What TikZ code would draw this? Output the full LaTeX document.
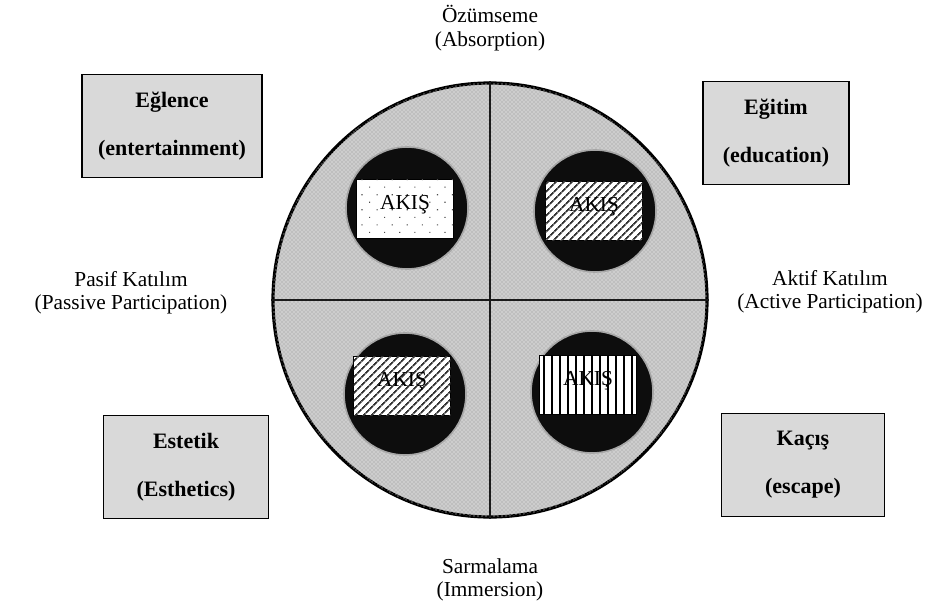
\documentclass[tikz,border=0pt]{standalone}
\usepackage{fontspec}
\setmainfont{Liberation Serif}
\usetikzlibrary{patterns,patterns.meta}

\begin{document}
\begin{tikzpicture}[x=0.75pt,y=-0.75pt,
  every node/.style={align=center},
  axislabel/.style={font=\fontsize{16}{17.5}\selectfont},
  realmbox/.style={draw=black, fill=gray!30, thick, minimum height=77pt, font=\fontsize{16.5}{19}\bfseries\selectfont},
  disc/.style={circle, draw=black, line width=2.4pt, fill=gray!50, postaction={pattern=crosshatch dots, pattern color=white}, minimum size=325.5pt, inner sep=0pt},
  flowdisc/.style={circle, fill=black!95, draw=gray!70, line width=1.2pt, minimum size=91.5pt, inner sep=0pt},
  flowbox/.style={draw=black, fill=white, minimum width=72.75pt, minimum height=44.5pt, inner sep=0pt, text depth=10pt, font=\fontsize{16}{18}\selectfont},
  quadrant/.style={line width=1.3pt, black!90}]

\useasboundingbox (0,0) rectangle (927,602);

% The experience circle and its quadrants
\node[disc] (experience) at (490,300) {};
\draw[quadrant] (experience.north) -- (experience.south);
\draw[quadrant] (experience.west) -- (experience.east);

% Flow in each realm
\node[flowdisc] (flowEntertainment) at (407,208) {};
\node[flowdisc] (flowEducation) at (595,211) {};
\node[flowdisc] (flowEsthetics) at (405,394) {};
\node[flowdisc] (flowEscape) at (592,392) {};

\node[flowbox, postaction={pattern={Dots[radius=0.6pt,distance=8pt,angle=45]}, pattern color=black!70}] (akisEntertainment) at (405,209) {AKIŞ};
\node[flowbox, postaction={pattern={Lines[angle=45,distance=4pt,line width=1.4pt]}, pattern color=black!80}] (akisEducation) at (594,211) {AKIŞ};
\node[flowbox, postaction={pattern={Lines[angle=45,distance=4pt,line width=1.4pt]}, pattern color=black!80}] (akisEsthetics) at (402,386) {AKIŞ};
\node[flowbox, postaction={pattern={Lines[angle=90,distance=6pt,line width=2.2pt]}, pattern color=black}] (akisEscape) at (588,385) {AKIŞ};

% Axis labels
\node[axislabel] (absorption) at (490,28) {Özümseme\\(Absorption)};
\node[axislabel] (immersion) at (490,580) {Sarmalama\\(Immersion)};
\node[axislabel] (passive) at (131,293) {Pasif Katılım\\(Passive Participation)};
\node[axislabel] (active) at (830,292) {Aktif Katılım\\(Active Participation)};

% The four realms
\node[realmbox, minimum width=135pt] (entertainment) at (172,126) {Eğlence\\[17pt](entertainment)};
\node[realmbox, minimum width=109.5pt] (education) at (776,133) {Eğitim\\[17pt](education)};
\node[realmbox, minimum width=124pt] (esthetics) at (186,467) {Estetik\\[17pt](Esthetics)};
\node[realmbox, minimum width=122pt] (escape) at (803,465) {Kaçış\\[17pt](escape)};

\end{tikzpicture}
\end{document}
